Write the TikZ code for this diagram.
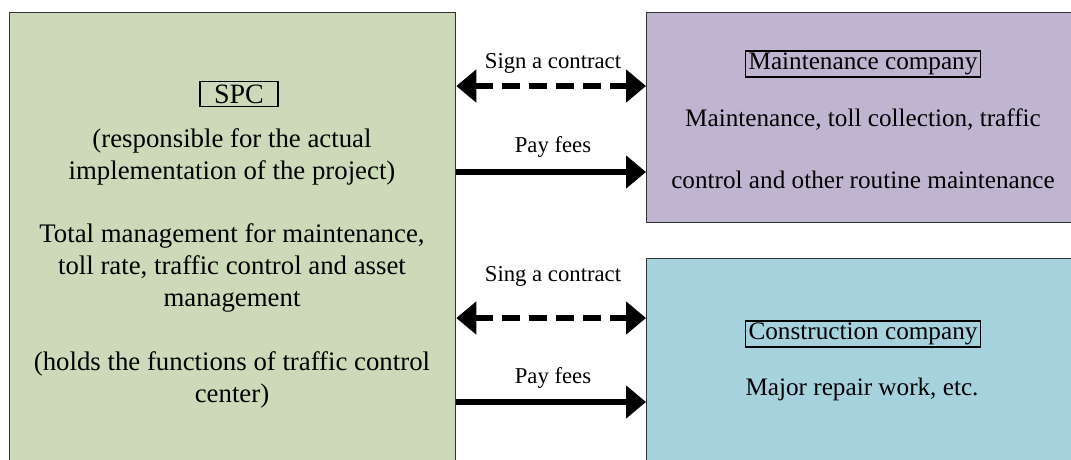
\documentclass[tikz,border=0pt]{standalone}
\usepackage{fontspec}
\setmainfont{Liberation Serif}
\usetikzlibrary{arrows.meta}
\definecolor{spcgreen}{RGB}{205,218,185}
\definecolor{mcpurple}{RGB}{191,181,209}
\definecolor{ccblue}{RGB}{166,210,222}
\begin{document}
\begin{tikzpicture}[x=1pt,y=-1pt,
  bigbox/.style={draw=black!80,line width=1.3pt,anchor=north west,inner sep=0pt},
  titlebox/.style={draw,line width=1.6pt,inner ysep=2pt,inner xsep=3pt},
  spctext/.style={align=center,font=\fontsize{26.8}{32}\selectfont},
  rtext/.style={align=center,font=\fontsize{25.2}{62}\selectfont},
  lbl/.style={font=\fontsize{22.7}{26}\selectfont},
  pay/.style={line width=6pt,-{Triangle[length=20pt,width=32pt]}},
  contract/.style={line width=6pt,dash pattern=on 18pt off 9pt,{Triangle[length=20pt,width=32pt]}-{Triangle[length=20pt,width=32pt]}}]
\useasboundingbox (0,0) rectangle (1071,459);
\clip (0,0) rectangle (1071,459);
\fill[white] (0,0) rectangle (1071,459);
\node[bigbox,fill=spcgreen,minimum width=446pt,minimum height=470pt] (spc) at (9,12) {};
\node[bigbox,fill=mcpurple,minimum width=440pt,minimum height=210pt] (mc) at (646,12) {};
\node[bigbox,fill=ccblue,minimum width=440pt,minimum height=230pt] (cc) at (646,258) {};
% SPC texts
\node[titlebox,inner xsep=14pt,inner ysep=3pt,font=\fontsize{28}{30}\selectfont] (spct) at (239,94) {SPC};
\node[spctext] (spc1) at (232,157) {(responsible for the actual\\implementation of the project)};
\node[spctext] (spc2) at (232,268) {Total management for maintenance,\\toll rate, traffic control and asset\\management};
\node[spctext] (spc3) at (232,380) {(holds the functions of traffic control\\center)};
% Maintenance
\node[titlebox,font=\fontsize{25.2}{28}\selectfont] (mct) at (863,64) {Maintenance company};
\node[rtext] (mc1) at (863,149) {Maintenance, toll collection, traffic\\control and other routine maintenance};
% Construction
\node[titlebox,font=\fontsize{25.2}{28}\selectfont] (cct) at (863,334) {Construction company};
\node[rtext] (cc1) at (862,389) {Major repair work, etc.};
% arrows
\coordinate (a1) at (0,86);
\coordinate (a2) at (0,172);
\coordinate (a3) at (0,318);
\coordinate (a4) at (0,402);
\draw[contract] (spc.east |- a1) -- (mc.west |- a1);
\draw[pay] (spc.east |- a2) -- (mc.west |- a2);
\draw[contract] (spc.east |- a3) -- (cc.west |- a3);
\draw[pay] (spc.east |- a4) -- (cc.west |- a4);
\node[lbl] (l1) at (553,63) {Sign a contract};
\node[lbl] (l2) at (553,147) {Pay fees};
\node[lbl] (l3) at (553,276) {Sing a contract};
\node[lbl] (l4) at (553,378) {Pay fees};
\end{tikzpicture}
\end{document}
